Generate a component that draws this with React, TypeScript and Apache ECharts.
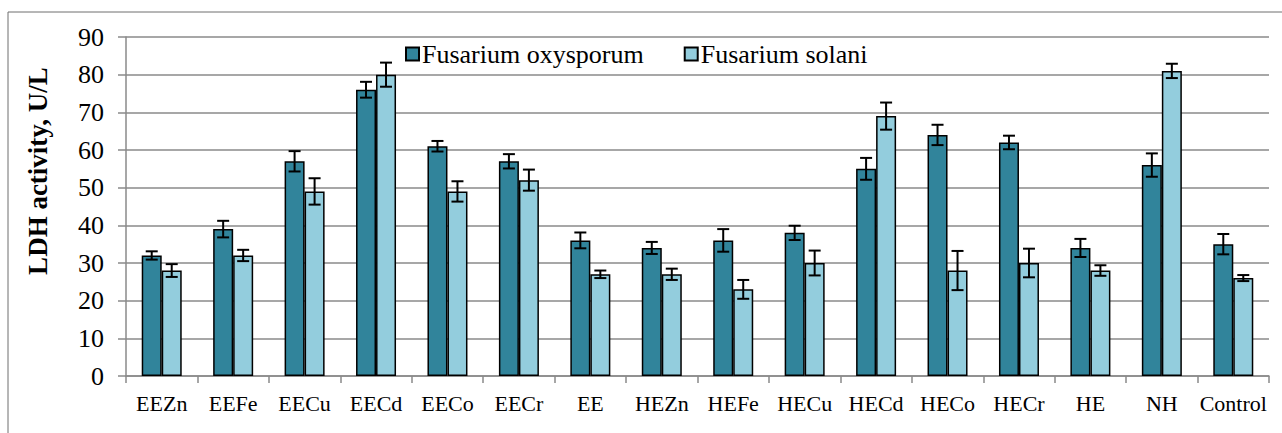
import React, { useEffect, useRef } from "react";
import * as echarts from "echarts";

const categories = ["EEZn", "EEFe", "EECu", "EECd", "EECo", "EECr", "EE", "HEZn", "HEFe", "HECu", "HECd", "HECo", "HECr", "HE", "NH", "Control"];
const oxysporum = [32, 39, 57, 76, 61, 57, 36, 34, 36, 38, 55, 64, 62, 34, 56, 35];
const oxysporumErr = [1.1, 2.2, 2.7, 2.1, 1.4, 1.9, 2.1, 1.6, 3.0, 1.9, 2.9, 2.7, 1.8, 2.4, 3.1, 2.7];
const solani = [28, 32, 49, 80, 49, 52, 27, 27, 23, 30, 69, 28, 30, 28, 81, 26];
const solaniErr = [1.7, 1.5, 3.5, 3.2, 2.7, 2.8, 1.0, 1.5, 2.5, 3.3, 3.6, 5.2, 3.8, 1.4, 1.9, 0.8];
const yTicks = { min: 0, max: 90, interval: 10 };

const FONT = "Liberation Serif";
const DARK = "#31849B";
const LIGHT = "#93CDDD";
const GRID = "#8a8a8a";

function errorSeries(values: number[], errs: number[], offset: number) {
  return {
    type: "custom",
    silent: true,
    z: 10,
    encode: { x: 0, y: 1 },
    data: values.map((v, i) => [i, v, errs[i]]),
    renderItem: (_params: any, api: any) => {
      const idx = api.value(0);
      const v = api.value(1);
      const e = api.value(2);
      const top = api.coord([idx, v + e]);
      const bot = api.coord([idx, v - e]);
      const x = top[0] + offset;
      const cap = 6;
      const style = { stroke: "#000", lineWidth: 2 };
      return {
        type: "group",
        children: [
          { type: "line", shape: { x1: x, y1: top[1], x2: x, y2: bot[1] }, style },
          { type: "line", shape: { x1: x - cap, y1: top[1], x2: x + cap, y2: top[1] }, style },
          { type: "line", shape: { x1: x - cap, y1: bot[1], x2: x + cap, y2: bot[1] }, style },
        ],
      };
    },
  };
}

export default function App() {
  const ref = useRef<HTMLDivElement>(null);
  useEffect(() => {
    document.body.style.margin = "0";
    if (!ref.current) return;
    const chart = echarts.init(ref.current, null, { renderer: "svg" });
    chart.setOption({
      animation: false,
      backgroundColor: "#fff",
      textStyle: { fontFamily: FONT },
      grid: { left: 126, right: 13, top: 37, bottom: 57 },
      legend: {
        left: 400,
        top: 36,
        itemWidth: 13,
        itemHeight: 13,
        itemGap: 40,
        icon: "rect",
        textStyle: { fontFamily: FONT, fontSize: 26, color: "#000", padding: [0, 0, 0, -2] },
        data: ["Fusarium oxysporum", "Fusarium solani"],
      },
      xAxis: {
        type: "category",
        data: categories,
        axisLine: { lineStyle: { color: GRID, width: 1.5 } },
        axisTick: { show: true, length: 7, lineStyle: { color: GRID, width: 1.5 } },
        axisLabel: { fontFamily: FONT, fontSize: 22, color: "#000", margin: 16, interval: 0 },
      },
      yAxis: {
        type: "value",
        min: yTicks.min,
        max: yTicks.max,
        interval: yTicks.interval,
        axisLine: { show: true, lineStyle: { color: GRID, width: 1.5 } },
        axisTick: { show: true, length: 8, lineStyle: { color: GRID, width: 1.5 } },
        splitLine: { lineStyle: { color: GRID, width: 1.5 } },
        axisLabel: { fontFamily: FONT, fontSize: 26, color: "#000", margin: 22 },
      },
      graphic: [
        {
          type: "rect",
          shape: { x: 8, y: 12, width: 1400, height: 600 },
          style: { fill: "none", stroke: "#6e6e6e", lineWidth: 1 },
          silent: true,
        },
        {
          type: "text",
          x: 38,
          y: 171,
          rotation: Math.PI / 2,
          style: {
            text: "LDH activity, U/L",
            fontFamily: FONT,
            fontSize: 27,
            fontWeight: "bold",
            fill: "#000",
            align: "center",
            verticalAlign: "middle",
          },
        },
      ],
      series: [
        {
          name: "Fusarium oxysporum",
          type: "bar",
          data: oxysporum,
          barWidth: 20,
          barGap: "0%",
          itemStyle: { color: DARK, borderColor: "#000", borderWidth: 1.5 },
        },
        {
          name: "Fusarium solani",
          type: "bar",
          data: solani,
          barWidth: 20,
          barGap: "0%",
          itemStyle: { color: LIGHT, borderColor: "#000", borderWidth: 1.5 },
        },
        errorSeries(oxysporum, oxysporumErr, -10),
        errorSeries(solani, solaniErr, 10),
      ],
    });
    return () => chart.dispose();
  }, []);
  return <div ref={ref} style={{ width: 1282, height: 433 }} />;
}
